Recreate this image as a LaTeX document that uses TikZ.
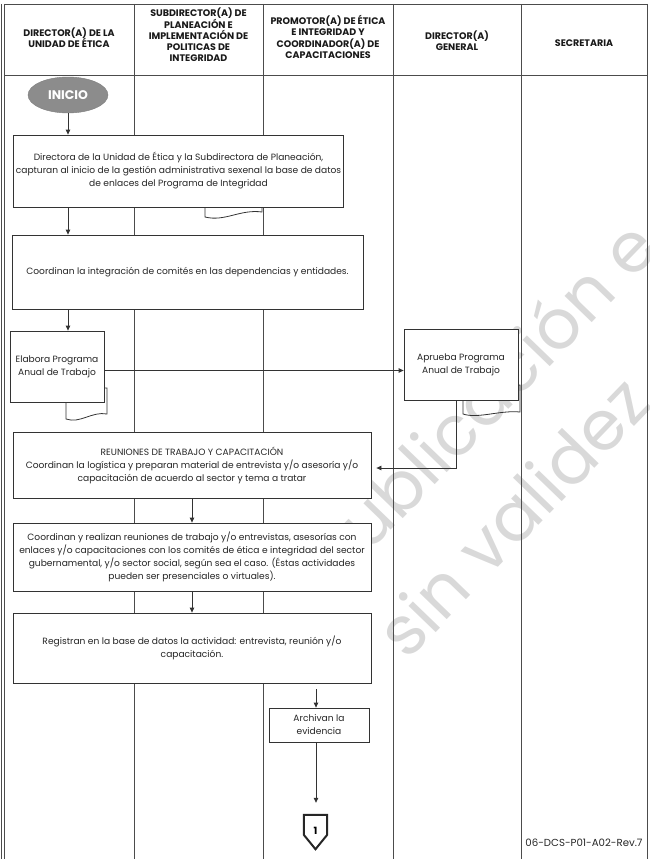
\documentclass[tikz,border=0pt]{standalone}
\usepackage{fontspec}
\setmainfont{Poppins}
\usetikzlibrary{arrows.meta,shapes.geometric,calc}

\begin{document}
\begin{tikzpicture}[x=1pt,y=-1pt,
  lane/.style={draw=black!70,line width=0.7pt},
  hdr/.style={font=\bfseries\fontsize{9.5}{11.3}\selectfont,align=center,text=black!90},
  proc/.style={draw=black!80,line width=0.8pt,fill=white,align=center,
    font=\fontsize{9.1}{13}\selectfont,text=black!85,inner sep=2pt},
  arr/.style={draw=black!80,line width=0.8pt,-{Triangle[length=5pt,width=4.5pt]}},
  doctab/.style={draw=black!80,line width=0.8pt},
  wm/.style={text=black!15,font=\fontsize{69}{72}\selectfont,rotate=46}]

\useasboundingbox (0,0) rectangle (650,859);

% watermark, behind everything
\node[wm] (w1) at (482,398) {Publicación e};
\node[wm] (w2) at (512,516) {sin validez};

% swimlane grid
\draw[lane] (4,4) -- (647,4);
\draw[lane] (4,75) -- (647,75);
\draw[lane] (1,4) -- (1,859);
\foreach \x in {4,134,263,393,521,647}
  \draw[lane] (\x,4) -- (\x,859);

% lane headers
\node[hdr] (h1) at (69,38) {DIRECTOR(A) DE LA\\UNIDAD DE ÉTICA};
\node[hdr] (h2) at (198.5,35) {SUBDIRECTOR(A) DE\\PLANEACIÓN E\\IMPLEMENTACIÓN DE\\POLITICAS DE\\INTEGRIDAD};
\node[hdr] (h3) at (328,37) {PROMOTOR(A) DE ÉTICA\\E INTEGRIDAD Y\\COORDINADOR(A) DE\\CAPACITACIONES};
\node[hdr] (h4) at (457,41) {DIRECTOR(A)\\GENERAL};
\node[hdr] (h5) at (584,43) {SECRETARIA};

% start
\node[ellipse,fill=black!45,draw=black!50,minimum width=80pt,minimum height=36pt,
  text=white,font=\bfseries\fontsize{12.5}{14}\selectfont] (ini) at (68,95) {INICIO};

% process boxes
\node[proc,minimum width=327pt,minimum height=72pt] (b1) at (178.5,171)
  {Directora de la Unidad de Ética y la Subdirectora de Planeación,\\capturan al inicio de la gestión administrativa sexenal la base de datos\\de enlaces del Programa de Integridad};
\draw[doctab] (205,207) -- (205,217) .. controls (225,222) and (240,209) .. (262,212) -- (262,207);

\node[proc,minimum width=351pt,minimum height=74pt] (b2) at (187.5,272)
  {Coordinan la integración de comités en las dependencias y entidades.};

\node[proc,minimum width=94pt,minimum height=71pt] (b3) at (57,366.5)
  {Elabora Programa\\Anual de Trabajo};
\draw[doctab] (66,402) -- (66,419) .. controls (80,424) and (92,411) .. (107,414) -- (107,388) -- (104,388);

\node[proc,minimum width=114pt,minimum height=71pt] (b4) at (461,364.5)
  {Aprueba Programa\\Anual de Trabajo};
\draw[doctab] (463,400) -- (463,414) .. controls (478,419) and (500,410) .. (520,412) -- (520,385) -- (518,385);

\node[proc,minimum width=358pt,minimum height=66pt] (b5) at (192,465)
  {REUNIONES DE TRABAJO Y CAPACITACIÓN\\Coordinan la logística y preparan material de entrevista y/o asesoría y/o\\capacitación de acuerdo al sector y tema a tratar};

\node[proc,minimum width=358pt,minimum height=68pt] (b6) at (192,557)
  {Coordinan y realizan reuniones de trabajo y/o entrevistas, asesorías con\\enlaces y/o capacitaciones con los comités de ética e integridad del sector\\gubernamental, y/o sector social, según sea el caso. (Éstas actividades\\pueden ser presenciales o virtuales).};

\node[proc,minimum width=358pt,minimum height=70pt] (b7) at (192,648)
  {Registran en la base de datos la actividad: entrevista, reunión y/o\\capacitación.};

\node[proc,minimum width=100pt,minimum height=34pt] (arch) at (319,725)
  {Archivan la\\evidencia};

% off-page connector
\node[font=\bfseries\fontsize{10}{12}\selectfont,minimum width=23pt,minimum height=36pt,
  inner sep=0pt,text depth=0pt] (c1) at (315.5,831) {1};
\draw[line width=2pt,draw=black!85,line join=miter]
  ([yshift=-2pt]c1.north west) -- ([yshift=-2pt]c1.north east)
  -- ($(c1.north east)+(0,22)$) -- (c1.south) -- ($(c1.north west)+(0,22)$) -- cycle;

\node[font=\fontsize{10.2}{12}\selectfont,text=black!85] (code) at (584,843) {06-DCS-P01-A02-Rev.7};

% flow
\draw[arr] (ini.south) -- (ini.south |- b1.north);
\draw[arr] (ini.south |- b1.south) -- (ini.south |- b2.north);
\draw[arr] (ini.south |- b2.south) -- (ini.south |- b3.north);
\draw[arr] ([yshift=-4pt]b3.east) -- ([yshift=-4pt]b3.east -| b4.west);
\draw[arr] ([xshift=-5pt]b4.south) |- ([xshift=5pt,yshift=-3pt]b5.east);
\draw[arr] (b5.south) -- (b6.north);
\draw[arr] (b6.south) -- (b7.north);
\draw[arr,shorten <=6pt] ([xshift=-3pt]arch.north |- b7.south) -- ([xshift=-3pt]arch.north);
\draw[arr,shorten >=10pt] ([xshift=-3pt]arch.south) -- ([xshift=-3pt]arch.south |- c1.north);
\end{tikzpicture}
\end{document}
